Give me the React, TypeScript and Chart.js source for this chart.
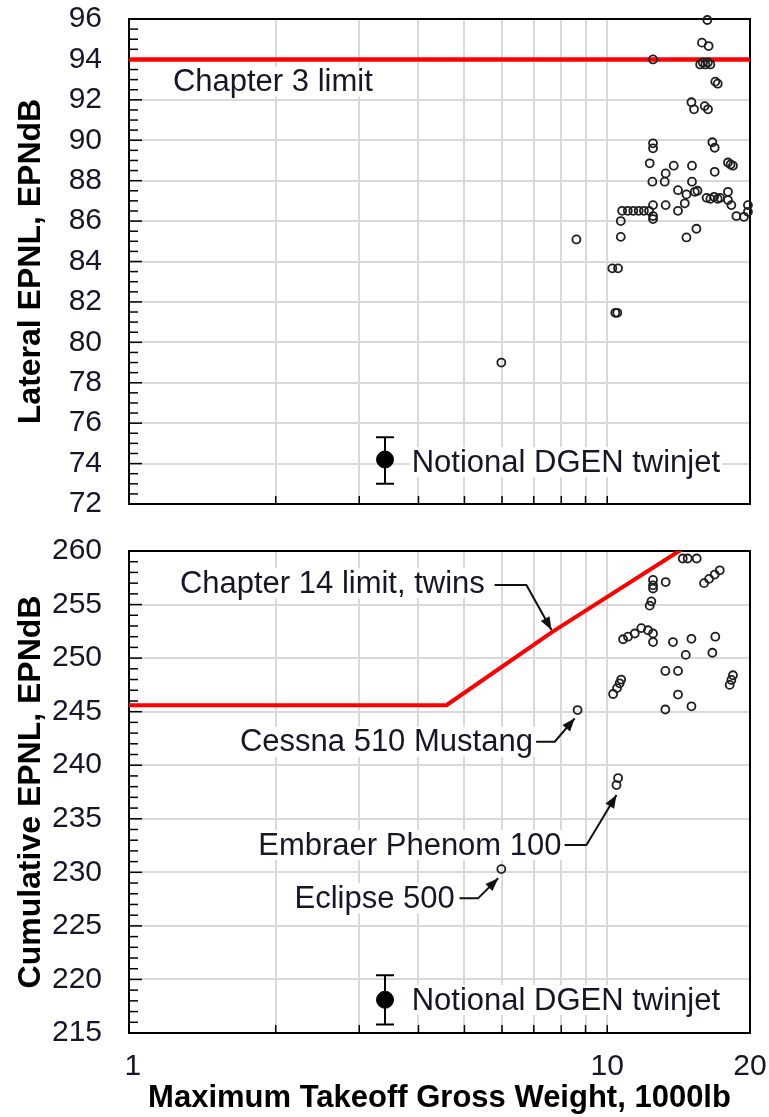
import React, { useEffect, useRef } from "react";
import { Chart, registerables } from "chart.js";

Chart.register(...registerables);

const FONT = "'Liberation Sans', Arial, sans-serif";
const TEXT = "#161628";
const GRID = "#d9d9d9";

// ---- shared x axis (log, 1000 lb) ----
const X_MIN = 0.981;
const X_MAX = 20;
const X_GRID_VALUES = [2, 3, 4, 5, 6, 7, 8, 9, 10];
const X_TICK_LABELS = [1, 10, 20];
const X_TITLE = "Maximum Takeoff Gross Weight, 1000lb";

// ---- lateral EPNL (top panel) ----
const LAT_Y_TITLE = "Lateral EPNL, EPNdB";
const LAT_Y_MIN = 72;
const LAT_Y_MAX = 96;
const LAT_Y_STEP = 2;
const LAT_Y_MINOR = 0.5;
const LAT_X = [
  16.26, 15.84, 16.36, 12.49,
  15.7, 15.9, 16.1, 16.3, 16.5,
  16.9, 17.1,
  15.05, 15.24, 16.05, 16.31,
  12.49, 12.49, 16.66, 16.85,
  12.29, 13.81, 13.28, 13.22,
  15.09, 12.45, 15.09, 16.85,
  17.97, 18.2, 18.41,
  14.1, 14.69, 15.3, 15.5,
  16.2, 16.5, 16.8, 17.1, 17.3,
  17.97, 17.97, 18.27,
  14.57, 14.1, 13.28,
  12.49, 12.49, 12.49,
  10.75, 11.05, 11.35, 11.65, 11.95, 12.25,
  10.68, 10.68, 8.61,
  18.72, 19.42, 19.8, 19.8,
  14.69, 15.42,
  10.25, 10.54, 10.4, 10.5,
  5.98,
];
const LAT_Y = [
  95.95, 94.83, 94.66, 94.0,
  93.75, 93.85, 93.75, 93.85, 93.75,
  92.9, 92.8,
  91.88, 91.53, 91.69, 91.53,
  89.6, 89.85, 89.9, 89.63,
  88.86, 88.74, 88.36, 87.95,
  88.74, 87.95, 87.95, 88.44,
  88.9, 88.8, 88.74,
  87.53, 87.32, 87.45, 87.5,
  87.15, 87.1, 87.2, 87.1, 87.15,
  87.45, 87.04, 86.79,
  86.88, 86.51, 86.79,
  86.79, 86.1, 86.25,
  86.51, 86.51, 86.51, 86.51, 86.51, 86.51,
  86.0, 85.22, 85.09,
  86.25, 86.21, 86.79, 86.46,
  85.19, 85.62,
  83.66, 83.66, 81.46, 81.46,
  79.0,
];
const LAT_LIMIT_X = [0.981, 20];
const LAT_LIMIT_Y = [94, 94];
const DGEN_X = [3.4];
const LAT_DGEN_Y = [74.2];
const LAT_DGEN_LOW = [73.0];
const LAT_DGEN_HIGH = [75.3];

// ---- cumulative EPNL (bottom panel) ----
const CUM_Y_TITLE = "Cumulative EPNL, EPNdB";
const CUM_Y_MIN = 215;
const CUM_Y_MAX = 260;
const CUM_Y_STEP = 5;
const CUM_Y_MINOR = 1;
const CUM_X = [
  14.43, 14.78, 15.44,
  16.0, 16.4, 16.85, 17.27,
  12.49, 12.49, 12.49, 13.28,
  12.39, 12.29,
  10.8, 11.06, 11.43, 11.8, 12.19, 12.49, 12.49,
  13.76, 15.05, 14.64, 16.9, 16.66,
  13.26, 14.1,
  18.41, 18.27, 18.12,
  14.1, 15.05, 13.26,
  10.7, 10.62, 10.49, 10.29,
  8.66,
  10.54, 10.46,
  5.98,
];
const CUM_Y = [
  259.3, 259.3, 259.3,
  257.0, 257.4, 257.8, 258.2,
  257.3, 256.8, 256.5, 257.1,
  255.3, 254.9,
  251.76, 252.0, 252.3, 252.8, 252.6, 252.3, 251.5,
  251.5, 251.8, 250.3, 252.0, 250.5,
  248.8, 248.8,
  248.4, 247.96, 247.5,
  246.6, 245.5, 245.2,
  248.0, 247.65, 247.2, 246.65,
  245.15,
  238.8, 238.15,
  230.3,
];
const CH14_X = [0.981, 4.58, 7.69, 14.1, 20];
const CH14_Y = [245.6, 245.6, 252.5, 259.93, 264.2];
const CUM_DGEN_Y = [218.1];
const CUM_DGEN_LOW = [215.8];
const CUM_DGEN_HIGH = [220.4];

type Note = {
  text: string;
  x: number;
  y: number;
  align: "left" | "right";
  path?: number[][];
};

const LAT_NOTES: Note[] = [
  { text: "Chapter 3 limit", x: 1.214, y: 92.9, align: "left" },
  { text: "Notional DGEN twinjet", x: 3.87, y: 74.07, align: "left" },
];

const CUM_NOTES: Note[] = [
  {
    text: "Chapter 14 limit, twins",
    x: 5.52,
    y: 256.98,
    align: "right",
    path: [[5.79, 256.83], [6.755, 256.83], [7.63, 252.62]],
  },
  {
    text: "Cessna 510 Mustang",
    x: 6.97,
    y: 242.19,
    align: "right",
    path: [[7.08, 242.19], [7.75, 242.19], [8.54, 244.38]],
  },
  {
    text: "Embraer Phenom 100",
    x: 8.01,
    y: 232.55,
    align: "right",
    path: [[8.13, 232.55], [9.04, 232.55], [10.46, 237.22]],
  },
  {
    text: "Eclipse 500",
    x: 4.77,
    y: 227.57,
    align: "right",
    path: [[4.88, 227.57], [5.34, 227.57], [5.89, 229.44]],
  },
  { text: "Notional DGEN twinjet", x: 3.87, y: 218.08, align: "left" },
];

type Spec = {
  xs: number[];
  ys: number[];
  limitX: number[];
  limitY: number[];
  limitWidth: number;
  dgenX: number[];
  dgenY: number[];
  dgenLo: number[];
  dgenHi: number[];
  yMin: number;
  yMax: number;
  yStep: number;
  yMinor: number;
  yTitle: string;
  notes: Note[];
  padTop: number;
  xHeight: number;
  showX: boolean;
};

const LAT_SPEC: Spec = {
  xs: LAT_X,
  ys: LAT_Y,
  limitX: LAT_LIMIT_X,
  limitY: LAT_LIMIT_Y,
  limitWidth: 4.5,
  dgenX: DGEN_X,
  dgenY: LAT_DGEN_Y,
  dgenLo: LAT_DGEN_LOW,
  dgenHi: LAT_DGEN_HIGH,
  yMin: LAT_Y_MIN,
  yMax: LAT_Y_MAX,
  yStep: LAT_Y_STEP,
  yMinor: LAT_Y_MINOR,
  yTitle: LAT_Y_TITLE,
  notes: LAT_NOTES,
  padTop: 19,
  xHeight: 26,
  showX: false,
};

const CUM_SPEC: Spec = {
  xs: CUM_X,
  ys: CUM_Y,
  limitX: CH14_X,
  limitY: CH14_Y,
  limitWidth: 4,
  dgenX: DGEN_X,
  dgenY: CUM_DGEN_Y,
  dgenLo: CUM_DGEN_LOW,
  dgenHi: CUM_DGEN_HIGH,
  yMin: CUM_Y_MIN,
  yMax: CUM_Y_MAX,
  yStep: CUM_Y_STEP,
  yMinor: CUM_Y_MINOR,
  yTitle: CUM_Y_TITLE,
  notes: CUM_NOTES,
  padTop: 21,
  xHeight: 84,
  showX: true,
};

function makeDecor(s: Spec) {
  return {
    id: "decor",
    beforeDatasetsDraw(chart: any) {
      const { ctx, chartArea: a } = chart;
      const xs = chart.scales.x;
      const ys = chart.scales.y;
      ctx.save();
      // inward tick marks on the y axis
      ctx.strokeStyle = "#000";
      ctx.lineWidth = 1.5;
      const n = Math.round((s.yMax - s.yMin) / s.yMinor);
      for (let i = 0; i <= n; i++) {
        const v = s.yMin + i * s.yMinor;
        const py = ys.getPixelForValue(v);
        const r = v / s.yStep;
        const major = Math.abs(r - Math.round(r)) < 1e-6;
        const len = major ? 13 : 9;
        ctx.beginPath();
        ctx.moveTo(a.left, py);
        ctx.lineTo(a.left + len, py);
        ctx.stroke();
      }
      // inward tick marks on the x axis
      for (const v of X_GRID_VALUES) {
        const px = xs.getPixelForValue(v);
        ctx.beginPath();
        ctx.moveTo(px, a.bottom);
        ctx.lineTo(px, a.bottom - 8);
        ctx.stroke();
      }
      // frame
      ctx.lineWidth = 2;
      ctx.strokeStyle = "#000";
      ctx.strokeRect(a.left, a.top, a.right - a.left, a.bottom - a.top);

      // notes + arrows
      ctx.font = `31px ${FONT}`;
      ctx.textBaseline = "middle";
      for (const note of s.notes) {
        const px = xs.getPixelForValue(note.x);
        const py = ys.getPixelForValue(note.y);
        const w = ctx.measureText(note.text).width;
        const left = note.align === "right" ? px - w : px;
        ctx.fillStyle = "#fff";
        ctx.fillRect(left - 2, py - 15, w + 4, 30);
        ctx.fillStyle = TEXT;
        ctx.textAlign = note.align;
        ctx.fillText(note.text, px, py + 1);
        if (note.path && note.path.length > 1) {
          const P = note.path.map((p) => [
            xs.getPixelForValue(p[0]),
            ys.getPixelForValue(p[1]),
          ]);
          ctx.strokeStyle = "#111";
          ctx.fillStyle = "#111";
          ctx.lineWidth = 2;
          ctx.lineJoin = "round";
          ctx.beginPath();
          ctx.moveTo(P[0][0], P[0][1]);
          for (let i = 1; i < P.length; i++) ctx.lineTo(P[i][0], P[i][1]);
          ctx.stroke();
          const [x1, y1] = P[P.length - 2];
          const [x2, y2] = P[P.length - 1];
          const ang = Math.atan2(y2 - y1, x2 - x1);
          const L = 13;
          const W = 5;
          const c = Math.cos(ang);
          const sn = Math.sin(ang);
          ctx.beginPath();
          ctx.moveTo(x2, y2);
          ctx.lineTo(x2 - L * c + W * sn, y2 - L * sn - W * c);
          ctx.lineTo(x2 - L * c - W * sn, y2 - L * sn + W * c);
          ctx.closePath();
          ctx.fill();
        }
      }

      // error bars for the notional aircraft
      ctx.strokeStyle = "#000";
      ctx.lineWidth = 2;
      for (let i = 0; i < s.dgenX.length; i++) {
        const px = xs.getPixelForValue(s.dgenX[i]);
        const lo = ys.getPixelForValue(s.dgenLo[i]);
        const hi = ys.getPixelForValue(s.dgenHi[i]);
        ctx.beginPath();
        ctx.moveTo(px, lo);
        ctx.lineTo(px, hi);
        ctx.moveTo(px - 9, lo);
        ctx.lineTo(px + 9, lo);
        ctx.moveTo(px - 9, hi);
        ctx.lineTo(px + 9, hi);
        ctx.stroke();
      }
      ctx.restore();
    },
  };
}

function buildChart(canvas: HTMLCanvasElement, s: Spec) {
  const pts = s.xs.map((x, i) => ({ x, y: s.ys[i] }));
  const limit = s.limitX.map((x, i) => ({ x, y: s.limitY[i] }));
  const dgen = s.dgenX.map((x, i) => ({ x, y: s.dgenY[i] }));
  const tickFont = { family: FONT, size: 30 };
  const allXTicks = Array.from(new Set([...X_TICK_LABELS, ...X_GRID_VALUES])).sort(
    (a, b) => a - b
  );
  return new Chart(canvas, {
    type: "scatter",
    data: {
      datasets: [
        {
          data: limit,
          showLine: true,
          borderColor: "#ff0000",
          backgroundColor: "#ff0000",
          borderWidth: s.limitWidth,
          pointRadius: 0,
          tension: 0,
          order: 3,
          clip: 0,
          borderJoinStyle: "round",
        },
        {
          data: pts,
          pointRadius: 4,
          pointBorderWidth: 1.8,
          pointBorderColor: "#1e1e1e",
          pointBackgroundColor: "rgba(255,255,255,0)",
          borderColor: "#1e1e1e",
          backgroundColor: "rgba(0,0,0,0)",
          order: 2,
          clip: false,
        },
        {
          data: dgen,
          pointRadius: 8.5,
          pointBorderWidth: 1,
          pointBackgroundColor: "#000",
          pointBorderColor: "#000",
          order: 1,
          clip: false,
        },
      ],
    } as any,
    options: {
      animation: false,
      responsive: false,
      events: [],
      layout: { padding: { top: s.padTop, right: 50, bottom: 0, left: 0 } },
      plugins: {
        legend: { display: false },
        tooltip: { enabled: false },
      },
      scales: {
        x: {
          type: "logarithmic",
          min: X_MIN,
          max: X_MAX,
          afterBuildTicks: (sc: any) => {
            sc.ticks = allXTicks.map((v) => ({ value: v }));
          },
          afterFit: (sc: any) => {
            sc.height = s.xHeight;
          },
          grid: {
            color: (c: any) =>
              c.tick && X_GRID_VALUES.includes(c.tick.value) ? GRID : "rgba(0,0,0,0)",
            lineWidth: 2,
            drawTicks: true,
            tickLength: 16,
            tickColor: "rgba(0,0,0,0)",
          },
          border: { display: false },
          ticks: {
            display: s.showX,
            autoSkip: false,
            maxRotation: 0,
            minRotation: 0,
            padding: 0,
            font: tickFont,
            color: TEXT,
            callback: (v: any) => (X_TICK_LABELS.includes(Number(v)) ? String(v) : ""),
          },
          title: {
            display: s.showX,
            text: X_TITLE,
            font: { family: FONT, size: 31, weight: "bold" },
            color: "#000",
            padding: { top: 0, bottom: 0 },
          },
        },
        y: {
          type: "linear",
          min: s.yMin,
          max: s.yMax,
          afterFit: (sc: any) => {
            sc.width = 129;
          },
          grid: {
            color: GRID,
            lineWidth: 2,
            drawTicks: true,
            tickLength: 27,
            tickColor: "rgba(0,0,0,0)",
          },
          border: { display: false },
          ticks: {
            stepSize: s.yStep,
            autoSkip: false,
            padding: 0,
            font: tickFont,
            color: TEXT,
          },
          title: {
            display: true,
            text: s.yTitle,
            font: { family: FONT, size: 32, weight: "bold" },
            color: "#000",
            padding: { top: 12, bottom: 0 },
          },
        },
      },
    } as any,
    plugins: [makeDecor(s)],
  });
}

export default function App() {
  const topRef = useRef<HTMLCanvasElement>(null);
  const botRef = useRef<HTMLCanvasElement>(null);
  useEffect(() => {
    const c1 = buildChart(topRef.current!, LAT_SPEC);
    const c2 = buildChart(botRef.current!, CUM_SPEC);
    return () => {
      c1.destroy();
      c2.destroy();
    };
  }, []);
  return (
    <div
      style={{
        position: "fixed",
        left: 0,
        top: 0,
        width: 769,
        height: 1117,
        overflow: "hidden",
        background: "#fff",
      }}
    >
      <canvas
        ref={topRef}
        width={800}
        height={530}
        style={{ position: "absolute", left: 0, top: 0, width: 800, height: 530 }}
      />
      <canvas
        ref={botRef}
        width={800}
        height={587}
        style={{ position: "absolute", left: 0, top: 530, width: 800, height: 587 }}
      />
    </div>
  );
}
